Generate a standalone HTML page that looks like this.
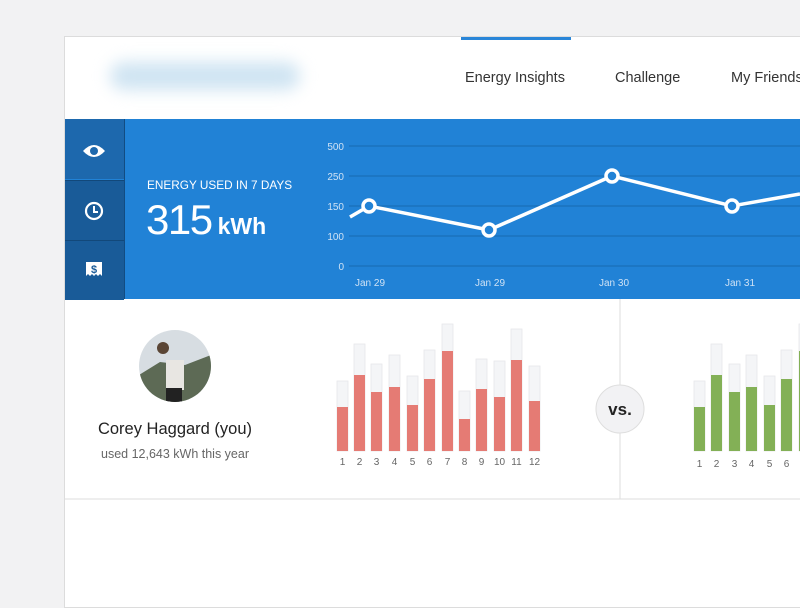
<!DOCTYPE html>
<html><head><meta charset="utf-8"><style>
body{margin:0;width:800px;height:600px;background:#f2f2f3;overflow:hidden;position:relative;font-family:"Liberation Sans","DejaVu Sans",sans-serif}
.a{position:absolute}
</style></head><body>
<div class="a" style="left:64px;top:36px;width:740px;height:570px;background:#fff;border:1px solid #dcdcdc"></div>
<div class="a" style="left:110px;top:62px;width:190px;height:28px;border-radius:15px;background:#cfe4f2;filter:blur(8px)"></div>
<div class="a" style="left:461px;top:37px;width:110px;height:3px;background:#2a86d8"></div>
<div class="a" style="left:465px;top:70px;font-size:14.5px;color:#333">Energy Insights</div>
<div class="a" style="left:615px;top:70px;font-size:14.5px;color:#333">Challenge</div>
<div class="a" style="left:731px;top:70px;font-size:14.5px;color:#333;white-space:nowrap">My Friends</div>
<div class="a" style="left:65px;top:119px;width:740px;height:180px;background:#2182d6"></div>
<div class="a" style="left:65px;top:119px;width:59px;height:60px;background:#1d68ad"></div>
<div class="a" style="left:65px;top:180px;width:59px;height:59px;background:#195b98;border-top:1px solid #12487a"></div>
<div class="a" style="left:65px;top:240px;width:59px;height:59px;background:#195b98;border-top:1px solid #12487a"></div>
<div class="a" style="left:124px;top:119px;width:1px;height:180px;background:#124c82"></div>
<svg class="a" style="left:65px;top:119px" width="60" height="180">
<path d="M18 32 Q29 20 40 32 Q29 44 18 32Z" fill="#fff"/><circle cx="29" cy="32" r="4" fill="#1d68ad"/>
<circle cx="29" cy="92" r="8" fill="none" stroke="#fff" stroke-width="2.2"/><path d="M29 87V93H33" stroke="#fff" stroke-width="2" fill="none"/>
<path d="M21 143H37V157L35 155 33 157 31 155 29 157 27 155 25 157 23 155 21 157Z" fill="#fff"/>
<text x="29" y="154" font-size="11" font-weight="bold" fill="#195b98" text-anchor="middle">$</text>
</svg>
<div class="a" style="left:147px;top:178px;font-size:11.8px;color:#fff;white-space:nowrap">ENERGY USED IN 7 DAYS</div>
<div class="a" style="left:146px;top:196px;font-size:42px;color:#fff;letter-spacing:-1.5px;white-space:nowrap">315<span style="font-size:23px;font-weight:bold;letter-spacing:0;margin-left:6px">kWh</span></div>
<svg class="a" style="left:0;top:0" width="800" height="600" font-family="Liberation Sans,sans-serif">
<g stroke="#1869b0" stroke-width="1">
<line x1="349" y1="146" x2="800" y2="146"/><line x1="349" y1="176" x2="800" y2="176"/><line x1="349" y1="206" x2="800" y2="206"/><line x1="349" y1="236" x2="800" y2="236"/><line x1="349" y1="266" x2="800" y2="266"/></g>
<g fill="#cfe2f5" font-size="10" text-anchor="end"><text x="344" y="150">500</text><text x="344" y="180">250</text><text x="344" y="210">150</text><text x="344" y="240">100</text><text x="344" y="270">0</text></g>
<g fill="#cfe2f5" font-size="10" text-anchor="middle"><text x="370" y="286">Jan 29</text><text x="490" y="286">Jan 29</text><text x="614" y="286">Jan 30</text><text x="740" y="286">Jan 31</text></g>
<polyline points="350,217 369,206 489,230 612,176 732,206 800,194" fill="none" stroke="#fff" stroke-width="3.5"/>
<g fill="#2182d6" stroke="#fff" stroke-width="3.5"><circle cx="369" cy="206" r="6"/><circle cx="489" cy="230" r="6"/><circle cx="612" cy="176" r="6"/><circle cx="732" cy="206" r="6"/></g>
<line x1="65" y1="499" x2="805" y2="499" stroke="#dedede"/>
<line x1="620" y1="299" x2="620" y2="499" stroke="#dedede"/>
<circle cx="620" cy="409" r="24" fill="#f2f2f4" stroke="#dedede"/>
<text x="620" y="415" font-size="17" font-weight="bold" fill="#222" text-anchor="middle">vs.</text>
</svg>
<svg class="a" style="left:0;top:0" width="800" height="600" font-family="Liberation Sans,sans-serif" font-size="10" fill="#666" text-anchor="middle">
<defs><clipPath id="c"><circle cx="175" cy="366" r="36"/></clipPath></defs>
<g clip-path="url(#c)"><rect x="139" y="330" width="72" height="72" fill="#d7dde2"/><path d="M139 375 L160 362 185 365 211 355 V402 H139Z" fill="#5d6a55"/><rect x="166" y="360" width="18" height="30" fill="#e8e6e2"/><circle cx="163" cy="348" r="6" fill="#5a4535"/><rect x="166" y="388" width="16" height="14" fill="#222"/></g>
<g id="bars"></g>
</svg>
<div class="a" style="left:65px;top:420px;width:220px;text-align:center;font-size:16.5px;color:#222">Corey Haggard (you)</div>
<div class="a" style="left:65px;top:447px;width:220px;text-align:center;font-size:12.5px;color:#666">used 12,643 kWh this year</div>
<script>
var g=[381,344,364,355,376,350,324,391,359,361,329,366],r=[407,375,392,387,405,379,351,419,389,397,360,401];
var rx=[337,354,371,389,407,424,442,459,476,494,511,529],h='';
for(var i=0;i<12;i++){h+='<rect x="'+rx[i]+'" y="'+g[i]+'" width="11" height="'+(451-g[i])+'" fill="#f4f5f7" stroke="#e6e7ea" stroke-width="0.8"/><rect x="'+rx[i]+'" y="'+r[i]+'" width="11" height="'+(451-r[i])+'" fill="#e57b74"/><text x="'+(rx[i]+5.5)+'" y="465">'+(i+1)+'</text>';}
var gx=[694,711,729,746,764,781,799];
for(var i=0;i<7;i++){h+='<rect x="'+gx[i]+'" y="'+g[i]+'" width="11" height="'+(451-g[i])+'" fill="#f4f5f7" stroke="#e6e7ea" stroke-width="0.8"/><rect x="'+gx[i]+'" y="'+r[i]+'" width="11" height="'+(451-r[i])+'" fill="#83b056"/>'+(i<6?'<text x="'+(gx[i]+5.5)+'" y="467">'+(i+1)+'</text>':'');}
document.getElementById('bars').innerHTML=h;
</script>
</body></html>
